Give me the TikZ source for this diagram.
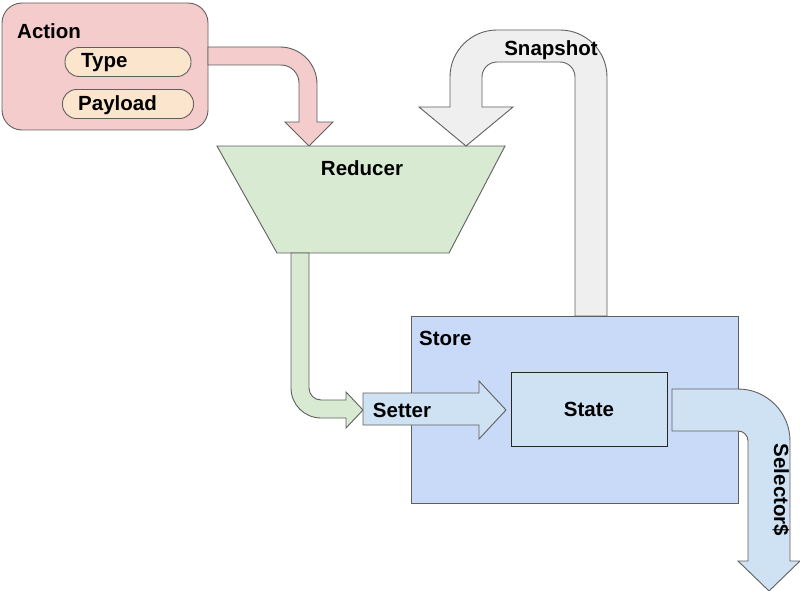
\documentclass[tikz,border=0pt]{standalone}
\usepackage{fontspec}
\setmainfont{Liberation Sans}
\usepackage{xcolor}
\usetikzlibrary{positioning}

\definecolor{edge}{HTML}{5F5F5F}
\definecolor{actfill}{HTML}{F4CCCC}
\definecolor{pillfill}{HTML}{FCE5CD}
\definecolor{redfill}{HTML}{D9EAD3}
\definecolor{snapfill}{HTML}{EFEFEF}
\definecolor{storefill}{HTML}{C9DAF8}
\definecolor{statefill}{HTML}{CFE2F3}

\begin{document}
\begin{tikzpicture}[x=1pt, y=1pt,
    txt/.style={font=\bfseries\fontsize{20.5}{24}\selectfont, inner sep=0pt},
    actbox/.style={draw=edge, line width=0.9pt, fill=actfill, rounded corners=20pt, minimum width=206pt, minimum height=127pt},
    pill/.style={draw=edge, line width=0.9pt, fill=pillfill, rounded corners=14pt, minimum height=29pt},
    storebox/.style={draw=edge, line width=0.9pt, fill=storefill, minimum width=327pt, minimum height=187pt},
    statebox/.style={draw=black!85, line width=0.9pt, fill=statefill, minimum width=156pt, minimum height=74pt, font=\bfseries\fontsize{20.5}{24}\selectfont},
    fat/.style={draw=edge, line width=0.9pt, line join=miter},
]
\useasboundingbox (0,0) rectangle (800,-591);

\node[actbox] (action) at (105,-66.5) {};
\node[txt, anchor=west] (actlbl) at (17,-31) {Action};
\node[pill, minimum width=126pt] (type) at (128,-62) {};
\node[pill, minimum width=131pt] (payload) at (128,-104) {};
\node[txt, anchor=base west] (typelbl) at (81,-68) {Type};
\node[txt, anchor=base west] (payloadlbl) at (78,-111) {Payload};

\draw[fat, fill=actfill] (208,-47) -- (280,-47) arc[start angle=90, end angle=0, radius=37]
    -- (317,-122) -- (333,-122) -- (309,-146) -- (285,-122) -- (299,-122) -- (299,-83)
    arc[start angle=0, end angle=90, radius=18] -- (208,-65) -- cycle;

\draw[fat, fill=redfill] (217,-146) -- (505,-146) -- (449,-253) -- (277,-253) -- cycle;
\node[txt] (reducer) at (362,-168) {Reducer};

\draw[fat, fill=snapfill] (575,-316) -- (575,-77) arc[start angle=0, end angle=90, radius=15]
    -- (497,-62) arc[start angle=90, end angle=180, radius=15] -- (482,-107) -- (513,-107)
    -- (466,-146) -- (419,-107) -- (450,-107) -- (450,-77) arc[start angle=180, end angle=90, radius=47]
    -- (560,-30) arc[start angle=90, end angle=0, radius=47] -- (607,-316) -- cycle;
\node[txt] (snapshot) at (551,-50) {Snapshot};

\draw[fat, fill=redfill] (291,-253) -- (291,-388) arc[start angle=180, end angle=270, radius=30]
    -- (346,-418) -- (346,-428) -- (363,-410) -- (346,-392) -- (346,-400) -- (321,-400)
    arc[start angle=270, end angle=180, radius=12] -- (309,-253) -- cycle;

\node[storebox] (store) at (574.5,-409.5) {};
\node[txt, anchor=west] (storelbl) at (419,-338) {Store};
\node[statebox] (state) at (589,-409) {State};

\draw[fat, fill=statefill] (363,-393) -- (479,-393) -- (479,-381) -- (506,-410) -- (479,-439)
    -- (479,-425) -- (363,-425) -- cycle;
\node[txt] (setter) at (402,-410) {Setter};

\draw[fat, fill=statefill] (672,-389) -- (738,-389) arc[start angle=90, end angle=0, radius=52]
    -- (790,-561) -- (800,-561) -- (769,-591) -- (738,-561) -- (748,-561) -- (748,-441)
    arc[start angle=0, end angle=90, radius=10] -- (672,-431) -- cycle;
\node[txt, rotate=-90] (selector) at (781,-490) {Selector\$};

\end{tikzpicture}
\end{document}
